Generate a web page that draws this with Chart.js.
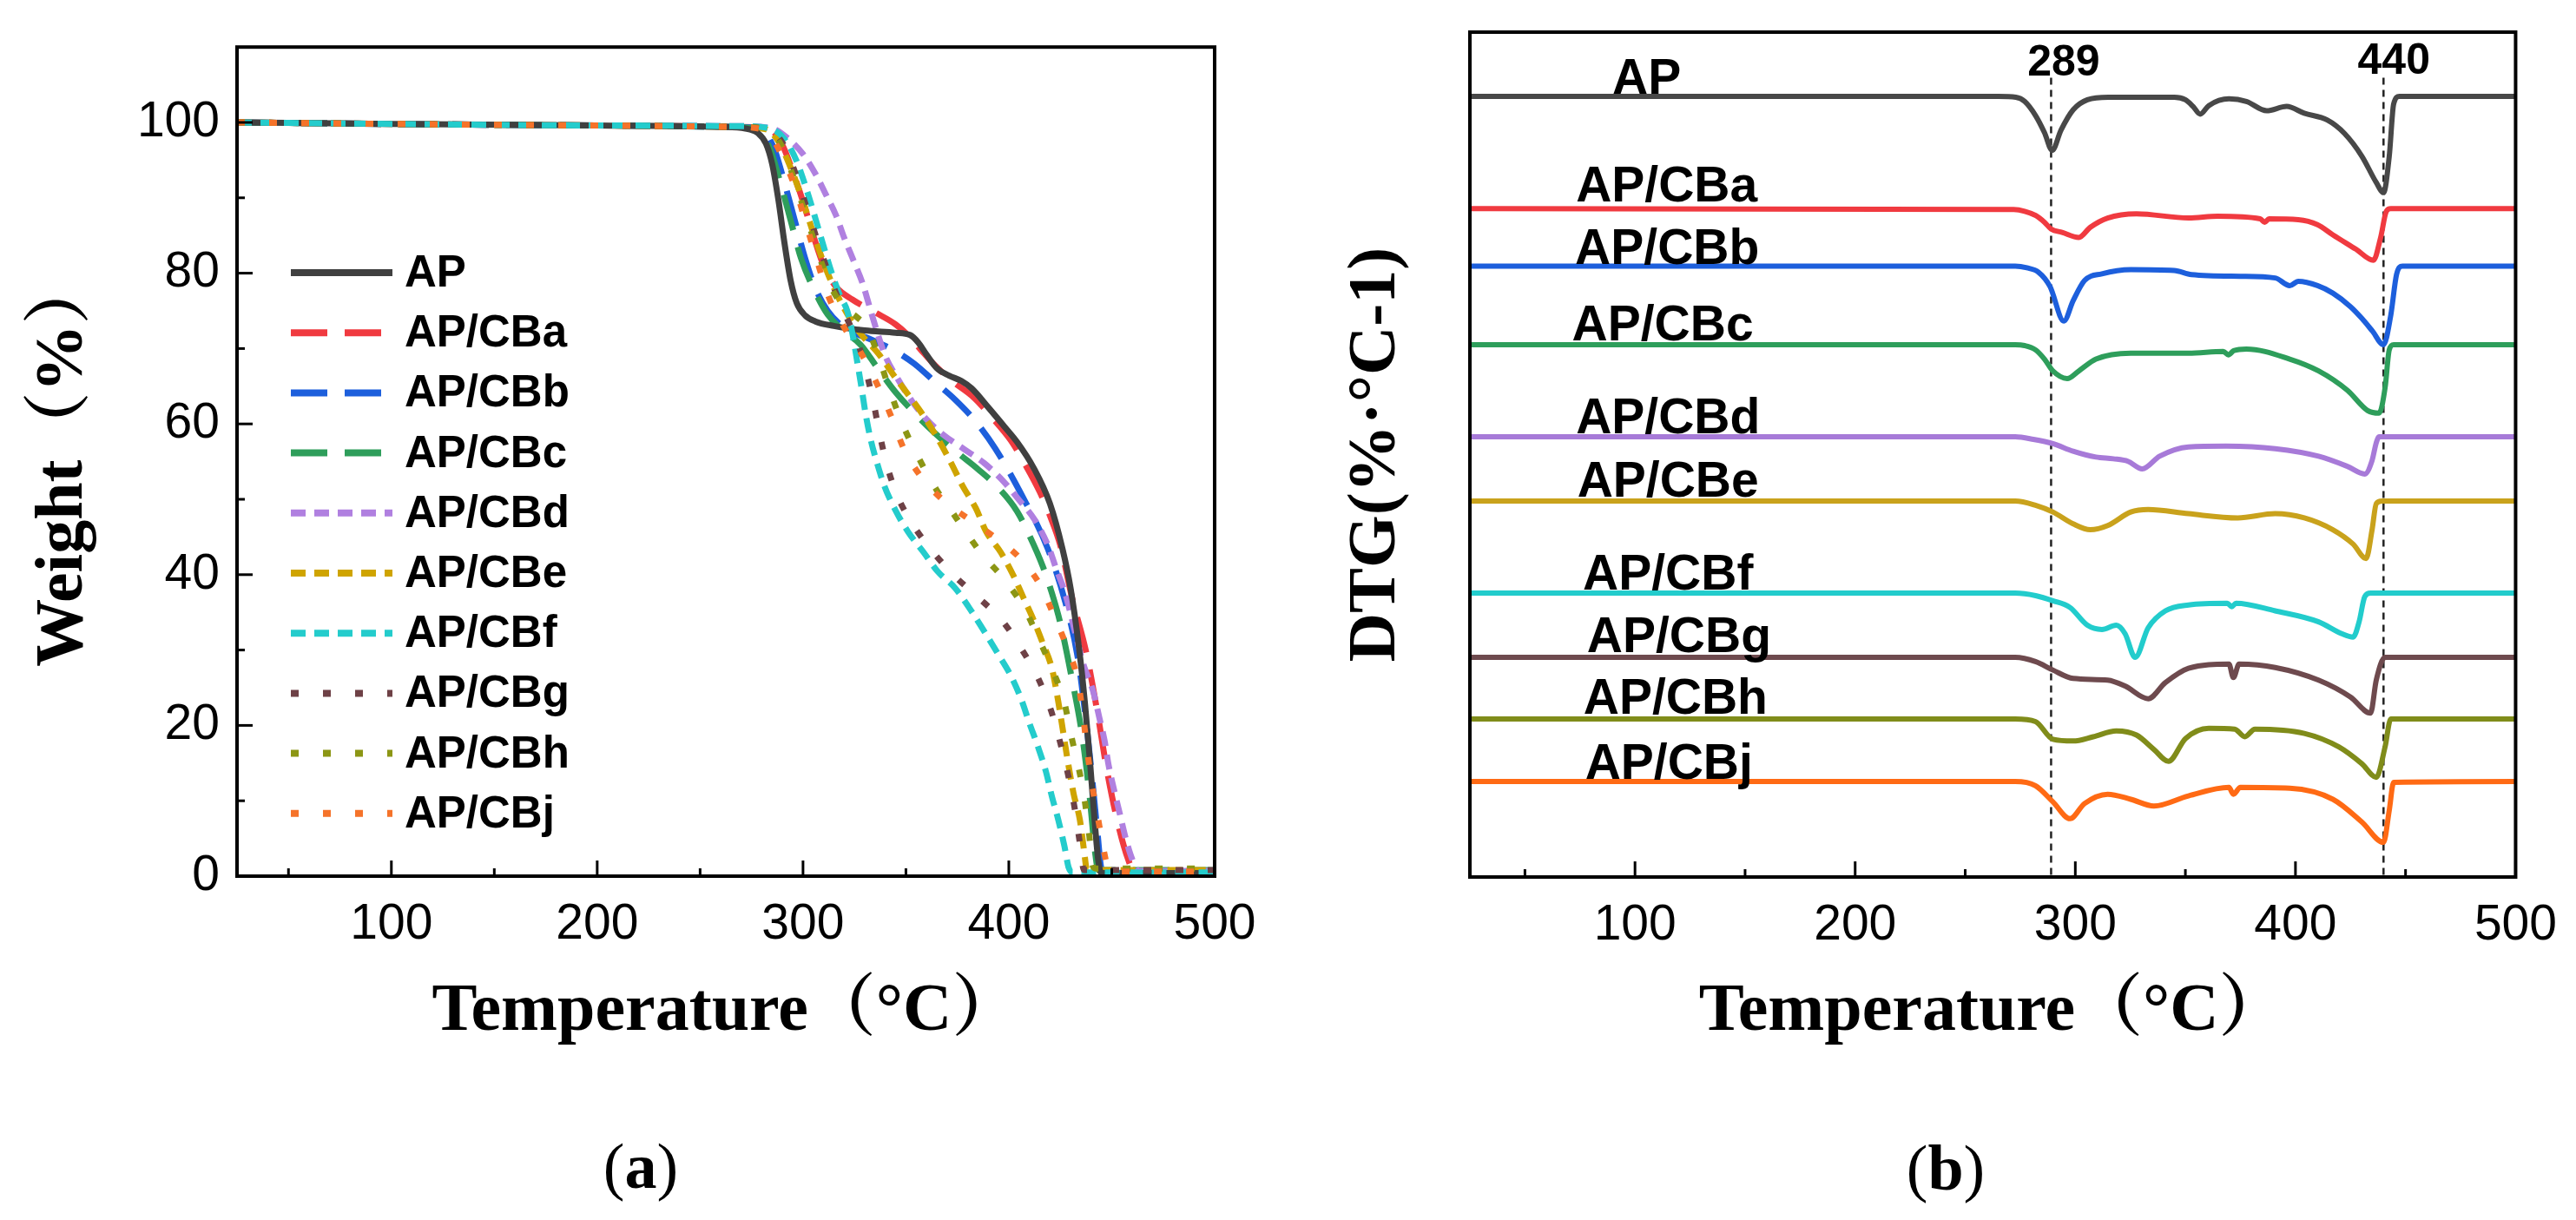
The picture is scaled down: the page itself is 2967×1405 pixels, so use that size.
<!DOCTYPE html>
<html>
<head>
<meta charset="utf-8">
<script src="https://cdn.jsdelivr.net/npm/chart.js@4.4.1/dist/chart.umd.min.js"></script>
<style>
  html, body { margin: 0; padding: 0; background: #fff; }
  #wrap { position: relative; width: 2967px; height: 1405px; overflow: hidden; background: #fff; }
  canvas { position: absolute; top: 0; }
  #tga { left: 0; }
  #dtg { left: 1480px; }
  .cap { position: absolute; font-family: 'Liberation Serif', 'Times New Roman', serif; font-size: 74px;
         line-height: 1; transform: translate(-50%, -50%); color: #000; }
</style>
</head>
<body>
<div id="wrap">
  <canvas id="tga" width="1480" height="1240"></canvas>
  <canvas id="dtg" width="1487" height="1240"></canvas>
  <div class="cap" style="left:738px; top:1343px">(<b>a</b>)</div>
  <div class="cap" style="left:2241px; top:1345px">(<b>b</b>)</div>
</div>
<script>
// ---- data ----
const seriesNames = ["AP", "AP/CBa", "AP/CBb", "AP/CBc", "AP/CBd", "AP/CBe", "AP/CBf", "AP/CBg", "AP/CBh", "AP/CBj"];

const tempTicks = [100, 200, 300, 400, 500];
const tempMinor = [50, 150, 250, 350, 450];
const weightTicks = [0, 20, 40, 60, 80, 100];
const weightMinor = [10, 30, 50, 70, 90];

// TGA: [temperature, weight %]
const tgaAP = [[25,100],[100,99.8],[200,99.6],[260,99.4],[272,99.2],[278,98.6],[282,97.2],[285,94.5],[288,89.8],[291,84],[294,79],[297,76],[301,74.4],[306,73.6],[315,73],[330,72.4],[345,72.1],[352,71.8],[356,70.8],[360,69.2],[365,67.4],[371,66.4],[377,65.7],[382,64.7],[390,62.2],[398,59.6],[404,57.6],[412,54.2],[420,49.4],[426,43.5],[430,38.2],[434,30.5],[437,22.9],[439.5,15],[441.5,8],[443.5,2],[445,0.4],[500,0.4]];
const tgaCBa = [[25,100],[100,99.8],[200,99.6],[270,99.4],[284,99],[290,97],[295,93.5],[300,89.5],[305,85],[310,81],[316,78.2],[324,76.5],[335,74.8],[345,73.2],[352,71.5],[358,69.6],[364,67.8],[372,65.8],[383,63.5],[392,60.8],[401,57.8],[408,54.6],[415,51],[420,47.8],[425,43.9],[431,36.6],[437.5,29.8],[443,21.8],[447.5,14.3],[453,7],[458,2.2],[461,0.6],[500,0.5]];
const tgaCBb = [[25,100],[100,99.8],[200,99.6],[268,99.4],[280,99],[286,96.5],[291,92],[296,87],[301,82],[306,78],[312,75],[320,72.8],[334,71.1],[344,69.8],[354,68],[364,65.6],[374,63.2],[384,60.3],[393.5,56.7],[406,50.7],[419,43.4],[427.5,36.3],[433.5,29],[437,21.8],[440,14.3],[443,6],[445,1],[447,0.5],[500,0.5]];
const tgaCBc = [[25,100],[100,99.8],[200,99.6],[266,99.4],[278,99],[284,96.5],[289,92],[294,87],[299,82],[305,78],[312,74.5],[320,72.3],[328,70.5],[336,67.5],[345,64.2],[355,61.2],[364,58.8],[375,56.2],[385,54],[395,51.5],[404,48.4],[410,45.2],[416.5,41.1],[421,37.5],[425,33.6],[430.5,26.4],[435.5,18.9],[439,11.3],[442,3],[443.5,0.8],[500,0.8]];
const tgaCBd = [[25,100],[100,99.8],[200,99.6],[270,99.5],[285,99.2],[293,97.8],[300,95.8],[306,93.2],[311,90.5],[316,87.7],[320,84.7],[324.5,81.7],[329,78.6],[332.5,75.4],[336,72.2],[340,69],[346,66],[353,63],[360,60.6],[368,58.6],[378,56.7],[388,54.8],[397,52.5],[405,49.9],[412.5,47.3],[419,43.9],[423,40.8],[427.5,37.4],[432,32.6],[436,28.3],[441,24.5],[444,21],[446.5,18],[448.5,14.7],[451,11.6],[454,8.2],[457,4.8],[460,2.2],[463,0.7],[500,0.7]];
const tgaCBe = [[25,100],[100,99.8],[200,99.6],[268,99.4],[282,99.1],[288,97.5],[294,94],[300,89.5],[306,84.5],[312,80],[319,75.8],[327,72.3],[337,69.2],[345,66.1],[353,63.2],[359,60.9],[366,57.8],[372,54.8],[377.5,51.8],[384,48.8],[389,45.7],[396,43],[402,40],[407,37],[412,34],[416.5,30.9],[421,27.5],[423.5,24],[425.5,20.7],[428.5,15.5],[431.5,10.9],[434.5,7.5],[436.5,3.5],[438,0.8],[500,0.8]];
const tgaCBf = [[25,100],[100,99.8],[200,99.6],[270,99.5],[284,99.2],[291,97.8],[297,94.8],[303,90],[309,84.5],[314,80],[318,77],[321.5,75],[324,72],[326.5,68],[328.5,64.7],[330.5,61.2],[333,57.8],[336,54.8],[339.5,51.8],[345,48.5],[351,45.7],[358.5,43],[365.5,40.4],[374,38.2],[381,35.5],[388,32.5],[394.5,29.6],[401,26.6],[406,23.5],[410,20.3],[414,17.3],[418,13.9],[421,10.5],[424,7.5],[427,4],[429,1.2],[431,0.5],[500,0.5]];
const tgaCBg = [[25,100],[100,99.8],[200,99.6],[268,99.4],[283,99.1],[290,97.3],[296,93.5],[302,88.5],[308,83.5],[314,78.8],[320,74.8],[325,71.8],[329,68.8],[332,65.5],[334.5,62.5],[337,59],[340.5,54.8],[345.5,50.7],[353,46.8],[362,43.4],[373,40],[385,37],[396.5,34],[406,30.2],[414,26.4],[420.5,22],[425,17.7],[429,13.2],[432,9],[434.5,4.4],[436.5,0.8],[500,0.8]];
const tgaCBh = [[25,100],[100,99.8],[200,99.6],[268,99.4],[282,99.1],[289,97.2],[295,93],[301,88],[307,83],[313,78.5],[320,75.5],[326,74.2],[331,72.8],[336,69.5],[341.5,65],[348,60.2],[356,55.6],[365,51.2],[372,48.5],[378,46.1],[387,42.7],[398,39.3],[408,35.3],[415,31.2],[421,27.5],[427,23],[430.5,18.4],[434,14.3],[437,9.8],[439,5.6],[441,1.2],[443,1],[500,1]];
const tgaCBj = [[25,100],[100,99.8],[200,99.6],[266,99.4],[280,99.1],[286,97.5],[291,94.8],[296,91.5],[301,87],[307,81.5],[313,76.5],[320,72.8],[328,69.5],[336.5,65],[343,60.9],[349,56.7],[356.5,53.3],[368,49.9],[381,47.3],[393,45],[405,42.3],[415.5,38.5],[422,34.5],[428.5,30.2],[433.5,26],[436,21.5],[438,16.9],[440.5,12],[443,8.2],[446,3.6],[448,1.2],[450,0.6],[500,0.6]];

// DTG: [temperature, curve level in stacked offset units]
const dtgAP = [[25,92.4],[265,92.4],[273,92.3],[277,91.8],[282,90.1],[286,88.1],[289.5,86],[293.5,88.4],[299,90.8],[305.5,92],[315,92.3],[345,92.3],[350,92],[353.5,91.2],[356.7,90.3],[360.6,91.3],[369.8,92.1],[377.7,91.8],[386.9,90.7],[396,91.2],[404,90.4],[414.4,89.6],[422.3,88],[430.2,85.3],[436.7,82.2],[440,81],[442.6,85.3],[444.6,91.5],[447.2,92.4],[500,92.4]];
const dtgCBa = [[25,79.1],[272,79],[277,78.8],[282,78.3],[286,77.5],[289,76.7],[294,76.3],[301.6,75.7],[306.8,76.9],[314.7,78],[327.8,78.5],[351.4,78],[364.6,78.2],[384,77.9],[386,77.5],[388,77.9],[401.3,77.8],[410,77.2],[417,76],[427.5,74.3],[435.4,73],[438.7,75.7],[441.3,78.8],[443.3,79.1],[500,79.1]];
const dtgCBb = [[25,72.3],[272.7,72.3],[278,72.1],[283.2,71.6],[288.5,69.9],[294.8,65.8],[299,68.2],[304.2,70.6],[312.1,71.4],[325.2,71.9],[344.9,71.8],[352.8,71.3],[375,71.1],[390.8,70.9],[397.4,70],[401.3,70.5],[410,70],[417,69.1],[425,67.5],[430.2,66.1],[435,64.6],[440,63],[443.3,66.5],[445.9,71.3],[448.6,72.3],[500,72.3]];
const dtgCBc = [[25,63],[272.7,63],[277,62.9],[281.9,62.4],[286,61.3],[289.8,59.9],[296.3,59],[301.6,59.9],[309.4,61.3],[325.2,62],[351.4,62],[367.2,62.2],[369.5,61.8],[372,62.3],[377.7,62.5],[397.4,61.3],[410.5,59.9],[423.6,57.6],[432.8,55.2],[438,54.9],[440.7,57.9],[442.6,62.4],[444.6,63],[500,63]];
const dtgCBd = [[25,52.1],[272.7,52.1],[281,51.8],[289.8,51.3],[299,50.4],[309.4,49.7],[317.3,49.5],[323.9,49.2],[330.4,48.3],[338.3,49.8],[351.4,50.9],[368.5,51],[390.8,50.7],[410.5,49.8],[423.6,48.6],[431.5,47.7],[434.8,49.3],[436.7,51.4],[438,52.1],[500,52.1]];
const dtgCBe = [[25,44.5],[272.7,44.5],[281.9,44],[289.8,43.2],[299,41.8],[306.8,41.1],[314.7,41.6],[325.2,43.2],[333.1,43.5],[351.4,43],[373.8,42.5],[390.8,43],[404,42.5],[417,41.1],[426.2,39.4],[432.1,37.7],[434.8,41.1],[436.7,44.2],[439.3,44.5],[500,44.5]];
const dtgCBf = [[25,33.6],[272.7,33.6],[282,33.3],[289.8,32.7],[297.6,31.9],[305.5,29.8],[312.1,29.3],[318.6,29.8],[322.6,28.8],[327.2,26],[333.1,29.5],[340.9,31.5],[351.4,32.2],[369,32.4],[371.1,32],[373,32.4],[390.8,31.5],[410.5,30.2],[421,28.8],[426.2,28.4],[428.9,30.2],[431.5,33.2],[434.1,33.6],[500,33.6]];
const dtgCBg = [[25,26],[272.7,26],[281.9,25.5],[289.8,24.5],[299,23.5],[314.7,23.3],[322.6,22.6],[333.1,21.1],[340.9,23],[351.4,24.7],[369.8,25.2],[371.8,23.6],[374.4,25.2],[390.8,24.8],[410.5,23.3],[425,21.3],[434.1,19.4],[436.7,23.3],[440.7,26],[500,26]];
const dtgCBh = [[25,18.7],[272.7,18.7],[281.9,18.4],[289.8,16.3],[299,16.1],[308.1,16.6],[318.6,17.3],[327.8,16.8],[335.7,15.1],[342.3,13.7],[350.1,16.4],[360.6,17.6],[372.4,17.5],[377,16.6],[381.6,17.5],[404,17],[419.7,15.4],[430.2,13.4],[436.7,11.8],[440.7,15.4],[443.3,18.7],[500,18.7]];
const dtgCBj = [[25,11.3],[272.7,11.3],[281.9,10.8],[289.8,8.9],[297.6,6.9],[304.2,8.7],[314.7,9.8],[325.2,9.2],[335.7,8.4],[351.4,9.6],[369.8,10.6],[371.8,9.8],[375,10.6],[397.4,10.5],[417,9.2],[430.2,6.5],[440,4.1],[442.6,7.9],[444.6,11.2],[500,11.3]];

// where the curve names sit on the DTG panel (temperature, level)
const dtgLabelT = [105.3, 114.4, 114.6, 112.6, 115.0, 115.0, 115.0, 120.0, 118.4, 115.4];
const dtgLabelV = [92.7, 80.0, 72.6, 63.5, 52.5, 45.0, 34.0, 26.6, 19.3, 11.6];
const peakTemps = [289, 440];
const peakLabelT = [294.7, 444.7];
const peakLabelV = [94.9, 95.1];
const peakLineTop = 94.6;

const tgaSeries = [tgaAP, tgaCBa, tgaCBb, tgaCBc, tgaCBd, tgaCBe, tgaCBf, tgaCBg, tgaCBh, tgaCBj];
const dtgSeries = [dtgAP, dtgCBa, dtgCBb, dtgCBc, dtgCBd, dtgCBe, dtgCBf, dtgCBg, dtgCBh, dtgCBj];

// ---- styles ----
const tgaColors = ["#404040", "#f03a40", "#1d5fdc", "#2e9e5b", "#b080e0", "#cfa400", "#24cccc", "#6e4146", "#8c9614", "#f5732a"];
const dtgColors = ["#484848", "#f03a40", "#1d5fdc", "#2e9e5b", "#a77ad8", "#c9a21c", "#22cccc", "#6e4a4e", "#808c1a", "#ff6a14"];
const tgaDash = [[], [42, 20], [42, 20], [42, 20], [17, 10], [17, 10], [17, 10], [9, 28], [9, 28], [9, 28]];

const SANS = "'Liberation Sans', Arial, sans-serif";
const SERIF = "'Liberation Serif', 'Times New Roman', 'Noto Serif CJK SC', 'Noto Sans CJK SC', serif";

// box + inward ticks
const framePlugin = {
    id: "frame",
    afterDraw(chart, args, o) {
        const { ctx, chartArea: a, scales } = chart;
        ctx.save();
        ctx.strokeStyle = "#000";
        ctx.lineWidth = 3;
        ctx.setLineDash([]);
        const tick = (x1, y1, x2, y2) => { ctx.beginPath(); ctx.moveTo(x1, y1); ctx.lineTo(x2, y2); ctx.stroke(); };
        o.xMajor.forEach(v => { const p = scales.x.getPixelForValue(v); tick(p, a.bottom, p, a.bottom - 18); });
        o.xMinor.forEach(v => { const p = scales.x.getPixelForValue(v); tick(p, a.bottom, p, a.bottom - 9); });
        (o.yMajor || []).forEach(v => { const p = scales.y.getPixelForValue(v); tick(a.left, p, a.left + 18, p); });
        (o.yMinor || []).forEach(v => { const p = scales.y.getPixelForValue(v); tick(a.left, p, a.left + 9, p); });
        ctx.lineWidth = 4;
        ctx.strokeRect(a.left, a.top, a.right - a.left, a.bottom - a.top);
        ctx.restore();
    }
};

// legend drawn inside the TGA plot with real dash patterns
const sampleLegend = {
    id: "sampleLegend",
    afterDatasetsDraw(chart, args, o) {
        const ctx = chart.ctx;
        ctx.save();
        chart.data.datasets.forEach((ds, i) => {
            const y = o.top + i * o.step;
            ctx.strokeStyle = ds.borderColor;
            ctx.lineWidth = o.lineWidth;
            ctx.setLineDash(ds.borderDash || []);
            ctx.beginPath();
            ctx.moveTo(o.x0, y);
            ctx.lineTo(o.x1, y);
            ctx.stroke();
            ctx.setLineDash([]);
            ctx.fillStyle = "#000";
            ctx.font = o.font;
            ctx.textBaseline = "middle";
            ctx.textAlign = "left";
            ctx.fillText(ds.label, o.textX, y + 2);
        });
        ctx.restore();
    }
};

// curve names and peak temperatures on the DTG plot
const dtgText = {
    id: "dtgText",
    afterDatasetsDraw(chart) {
        const { ctx, scales: { x, y } } = chart;
        ctx.save();
        ctx.fillStyle = "#000";
        ctx.textAlign = "center";
        ctx.textBaseline = "alphabetic";
        ctx.font = "bold 57px " + SANS;
        seriesNames.forEach((n, i) => ctx.fillText(n, x.getPixelForValue(dtgLabelT[i]), y.getPixelForValue(dtgLabelV[i])));
        ctx.font = "bold 50px " + SANS;
        peakTemps.forEach((t, i) => ctx.fillText(String(t), x.getPixelForValue(peakLabelT[i]), y.getPixelForValue(peakLabelV[i])));
        ctx.restore();
    }
};

function xAxis(height) {
    return {
        type: "linear", min: 25, max: 500,
        afterBuildTicks: s => { s.ticks = tempTicks.map(v => ({ value: v })); },
        afterFit: s => { s.height = height; },
        grid: { display: false, drawTicks: false },
        border: { display: false },
        ticks: { color: "#000", padding: 22, maxRotation: 0, font: { family: SANS, size: 57 } },
        title: { display: true, text: "Temperature（°C）", color: "#000", padding: { top: 35, bottom: 35 },
                 font: { family: SERIF, size: 78, weight: "bold", lineHeight: 1 } }
    };
}

const toXY = arr => arr.map(([x, y]) => ({ x, y }));

new Chart(document.getElementById("tga"), {
    type: "line",
    data: {
        datasets: seriesNames.map((n, i) => ({
            label: n,
            data: toXY(tgaSeries[i]),
            borderColor: tgaColors[i],
            borderWidth: 7,
            borderDash: tgaDash[i],
            pointRadius: 0,
            fill: false,
            cubicInterpolationMode: "monotone",
            order: i === 0 ? 5 : 10 - i
        }))
    },
    options: {
        responsive: false,
        animation: false,
        devicePixelRatio: 1,
        layout: { padding: { left: 0, top: 41, right: 81, bottom: 0 } },
        plugins: {
            legend: { display: false },
            tooltip: { enabled: false },
            frame: { xMajor: tempTicks, xMinor: tempMinor, yMajor: weightTicks, yMinor: weightMinor },
            sampleLegend: { x0: 335, x1: 452, textX: 466, top: 314, step: 69.2, lineWidth: 8, font: "bold 51px " + SANS }
        },
        scales: {
            x: xAxis(231),
            y: {
                type: "linear", min: 0, max: 110,
                afterBuildTicks: s => { s.ticks = weightTicks.map(v => ({ value: v })); },
                afterFit: s => { s.width = 273; },
                grid: { display: false, drawTicks: false },
                border: { display: false },
                ticks: { color: "#000", padding: 20, font: { family: SANS, size: 57 } },
                title: { display: true, text: "Weight（%）", color: "#000", padding: { top: 35, bottom: 35 },
                         font: { family: SERIF, size: 78, weight: "bold", lineHeight: 1 } }
            }
        }
    },
    plugins: [framePlugin, sampleLegend]
});

const dtgSets = seriesNames.map((n, i) => ({
    label: n,
    data: toXY(dtgSeries[i]),
    borderColor: dtgColors[i],
    borderWidth: 6,
    pointRadius: 0,
    fill: false,
    cubicInterpolationMode: "monotone"
}));
peakTemps.forEach(t => dtgSets.push({
    label: "peak " + t,
    data: [{ x: t, y: peakLineTop }, { x: t, y: 0 }],
    borderColor: "#222",
    borderWidth: 2.5,
    borderDash: [8, 6],
    pointRadius: 0,
    tension: 0
}));

new Chart(document.getElementById("dtg"), {
    type: "line",
    data: { datasets: dtgSets },
    options: {
        responsive: false,
        animation: false,
        devicePixelRatio: 1,
        layout: { padding: { left: 0, top: 37, right: 67, bottom: 0 } },
        plugins: {
            legend: { display: false },
            tooltip: { enabled: false },
            frame: { xMajor: tempTicks, xMinor: tempMinor }
        },
        scales: {
            x: xAxis(230),
            y: {
                type: "linear", min: 0, max: 100,
                afterFit: s => { s.width = 213; },
                grid: { display: false, drawTicks: false },
                border: { display: false },
                ticks: { display: false },
                title: { display: true, text: "DTG(%·°C-1)", color: "#000", padding: { top: 67, bottom: 67 },
                         font: { family: SERIF, size: 78, weight: "bold", lineHeight: 1 } }
            }
        }
    },
    plugins: [framePlugin, dtgText]
});
</script>
</body>
</html>
